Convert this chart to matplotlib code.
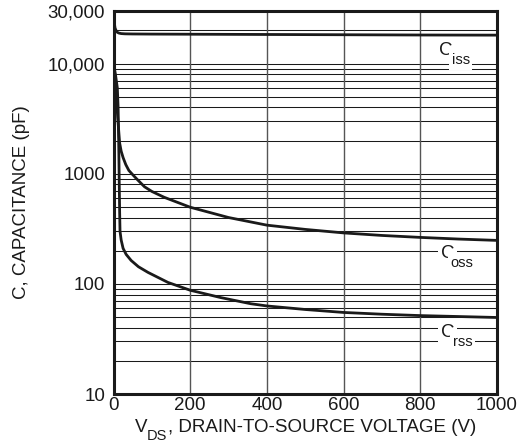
import matplotlib.pyplot as plt
from matplotlib.ticker import FixedLocator, NullFormatter

plt.rcParams['font.family'] = ['Liberation Sans', 'DejaVu Sans']

# capacitance vs drain-source voltage (pF)
v_iss = [0, 1, 2, 4, 7, 10, 14, 20, 30, 50, 100, 200, 400, 600, 800, 1000]
c_iss = [29500, 26000, 23500, 21000, 19800, 19200, 18900, 18700, 18600,
         18550, 18500, 18450, 18350, 18250, 18150, 18100]

v_oss = [0, 3, 7, 11, 16, 20, 25, 32, 40, 50, 60, 70, 81, 100, 132, 200,
         300, 400, 500, 600, 700, 800, 900, 1000]
c_oss = [12000, 8000, 5400, 3200, 1900, 1600, 1400, 1210, 1070, 980, 900,
         830, 760, 690, 611, 496, 400, 341, 312, 290, 275, 264, 255, 248]

v_rss = [0, 5, 10, 12, 13, 14, 15, 16, 17, 20, 25, 33, 46, 65, 90, 142,
         200, 280, 358, 400, 500, 600, 700, 800, 900, 1000]
c_rss = [10000, 8000, 6000, 4000, 2500, 1500, 800, 450, 300, 250, 210, 185,
         163, 143, 127, 103, 87.5, 75, 66, 63, 58.5, 55, 53, 51.5, 50.5, 49.5]

x_ticks = [0, 200, 400, 600, 800, 1000]
y_ticks = [10, 100, 1000, 10000, 30000]
y_tick_labels = ['10', '100', '1000', '10,000', '30,000']

ink = '#1a1a1a'

fig = plt.figure(figsize=(5.19, 4.44), dpi=100)
ax = fig.add_axes([0.2187, 0.1126, 0.7389, 0.8627])

ax.set_yscale('log')
ax.set_xlim(0, 1000)
ax.set_ylim(10, 30000)

# grid: every 1-9 step in each decade, plus 20,000
h_lines = [m * 10 ** d for d in range(1, 4) for m in range(1, 10)] + [10000, 20000]
for h in h_lines:
    ax.axhline(h, color=ink, lw=0.75, zorder=1)
for v in x_ticks[1:-1]:
    ax.axvline(v, color='#555555', lw=1.0, zorder=1)

for vx, cy in [(v_iss, c_iss), (v_oss, c_oss), (v_rss, c_rss)]:
    ax.plot(vx, cy, color=ink, lw=2.0, zorder=3, solid_capstyle='round')

# curve names: capital C with a low subscript, white box breaks the grid line
box = dict(facecolor='white', edgecolor='none', pad=2)
for name, vx, cy in [('iss', 867, 13200), ('oss', 871, 189), ('rss', 872, 36.2)]:
    ax.text(vx, cy, 'C', fontsize=13.5, ha='center', va='center',
            color=ink, zorder=4, bbox=box)
    ax.annotate(name, xy=(vx, cy), xytext=(10.5, -7.2),
                textcoords='offset points', fontsize=10.5, ha='center',
                va='center', color=ink, zorder=4, bbox=box)

ax.xaxis.set_major_locator(FixedLocator(x_ticks))
ax.yaxis.set_major_locator(FixedLocator(y_ticks))
ax.yaxis.set_minor_locator(FixedLocator([]))
ax.yaxis.set_minor_formatter(NullFormatter())
ax.set_yticklabels(y_tick_labels)
ax.tick_params(length=0, labelsize=13.5, colors=ink)
ax.tick_params(axis='x', pad=2)
ax.tick_params(axis='y', pad=6)

for s in ax.spines.values():
    s.set_linewidth(2.2)
    s.set_color(ink)

ax.set_ylabel('C, CAPACITANCE (pF)', fontsize=13.5, color=ink, labelpad=13)

# x label built from pieces so the DS subscript sits low
r = fig.canvas.get_renderer()
y_lab = 1 - 427 / 444
parts = [('V', 13.5, 0.0), ('DS', 10.5, -9 / 444),
         (', DRAIN-TO-SOURCE VOLTAGE (V)', 13.5, 0.0)]
texts = []
x = 0.0
for s, fs, dy in parts:
    t = fig.text(x, y_lab + dy, s, fontsize=fs, color=ink, ha='left', va='center')
    w = t.get_window_extent(r).width / fig.bbox.width
    texts.append((t, x, w))
    x += w
x_start = (0.2187 + 0.7389 / 2) - x / 2
for t, x0, w in texts:
    t.set_x(x_start + x0)

fig.savefig('out.png', dpi=100)
